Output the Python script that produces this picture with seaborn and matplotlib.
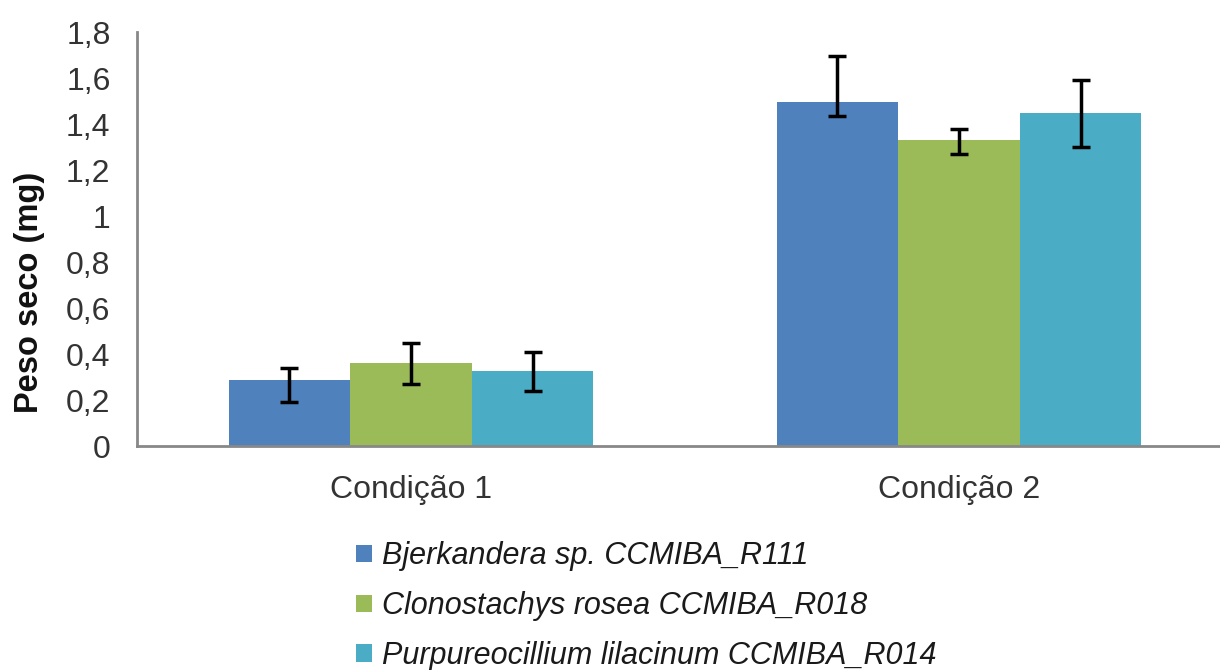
import pandas as pd
import seaborn as sns
import matplotlib.pyplot as plt
from matplotlib.ticker import FuncFormatter
from matplotlib.patches import Patch

# Data
conditions = ["Condição 1", "Condição 2"]
strains = ["Bjerkandera sp. CCMIBA_R111",
           "Clonostachys rosea CCMIBA_R018",
           "Purpureocillium lilacinum CCMIBA_R014"]
bjerkandera = [0.285, 1.495]
clonostachys = [0.36, 1.33]
purpureo = [0.325, 1.45]
err_low = [[0.095, 0.06], [0.09, 0.06], [0.085, 0.15]]
err_high = [[0.055, 0.2], [0.09, 0.05], [0.085, 0.14]]
colors = ["#4F81BD", "#9BBB59", "#4BACC6"]

df = pd.DataFrame({
    "Condição": conditions * 3,
    "Linhagem": [s for s in strains for _ in conditions],
    "Peso": bjerkandera + clonostachys + purpureo,
})

sns.set_style("white")
plt.rcParams['font.family'] = ['Liberation Sans', 'DejaVu Sans']

fig = plt.figure(figsize=(12.2, 6.7), dpi=100)
ax = fig.add_axes([137 / 1220, 1 - 446 / 670, 1096 / 1220, 414 / 670])

sns.barplot(data=df, x="Condição", y="Peso", hue="Linhagem", palette=colors,
            errorbar=None, width=0.666, saturation=1, ax=ax, legend=False,
            linewidth=0)

# error bars from bar positions
bar_conts = list(ax.containers)
for i, cont in enumerate(bar_conts):
    xs = [p.get_x() + p.get_width() / 2 for p in cont.patches]
    ys = [p.get_height() for p in cont.patches]
    ax.errorbar(xs, ys, yerr=[err_low[i], err_high[i]], fmt="none",
                ecolor="black", elinewidth=2.5, capsize=6.5, capthick=2.5)

ax.set_ylim(0, 1.8)
ax.set_yticks([0, 0.2, 0.4, 0.6, 0.8, 1, 1.2, 1.4, 1.6, 1.8])
ax.yaxis.set_major_formatter(FuncFormatter(lambda v, p: f"{v:g}".replace(".", ",")))
ax.set_xlim(-0.5, 1.5)
ax.tick_params(axis="y", length=0, labelsize=23, colors="#333333", pad=19)
ax.tick_params(axis="x", length=0, labelsize=23, colors="#333333", pad=21)
ax.set_xlabel("")
ax.set_ylabel("Peso seco (mg)", fontsize=23.5, fontweight="bold", color="#111111")
ax.yaxis.set_label_coords(-0.084, 0.372)

for s in ["top", "right"]:
    ax.spines[s].set_visible(False)
for s in ["left", "bottom"]:
    ax.spines[s].set_color("#888888")
    ax.spines[s].set_linewidth(2)

handles = [Patch(facecolor=c, edgecolor="none") for c in colors]
leg = fig.legend(handles, strains, loc="upper left",
                 bbox_to_anchor=(341 / 1220, 1 - 526 / 670), frameon=False,
                 prop={"style": "italic", "size": 22}, handlelength=0.5,
                 handleheight=0.5, handletextpad=0.35, labelspacing=0.65,
                 borderpad=0)
for t in leg.get_texts():
    t.set_color("#1a1a1a")

fig.savefig("out.png", dpi=100)
